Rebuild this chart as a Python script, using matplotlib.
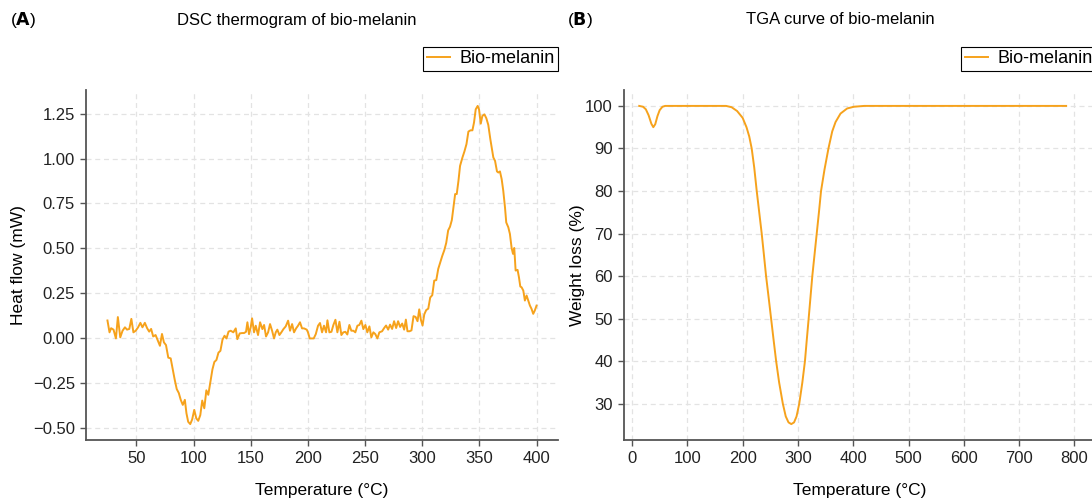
import matplotlib
matplotlib.use("Agg")
from matplotlib import pyplot as plt

plt.rcParams["font.family"] = ["Liberation Sans", "DejaVu Sans"]

LINE_COLOR = "#F6A21C"

# DSC thermogram
dsc_temp = [
    24.7, 26.5, 27.9, 30.0, 32.1, 33.8, 35.9, 37.9, 40.0, 41.8,
    43.8, 45.6, 47.4, 49.4, 51.5, 53.5, 55.3, 57.4, 59.4, 61.2,
    62.9, 64.7, 66.8, 68.8, 70.6, 72.4, 74.1, 75.9, 77.9, 80.0,
    81.8, 83.5, 85.3, 87.1, 88.8, 90.6, 92.4, 93.8, 95.3, 97.1,
    98.8, 100.6, 102.4, 104.1, 105.9, 107.6, 109.4, 111.2, 112.9, 114.7,
    116.5, 118.2, 120.0, 121.8, 123.5, 125.3, 127.1, 128.8, 130.6,
    132.5, 134.8, 136.9, 138.3, 140.4, 142.4, 144.2, 145.9, 147.1, 148.5,
    150.0, 151.2, 152.9, 154.4, 156.4, 158.2, 160.2, 161.7, 163.4, 165.2,
    166.9, 168.7, 170.4, 171.9, 173.3, 175.1, 176.8, 178.6, 180.6, 182.7,
    184.4, 186.2, 187.9, 189.7, 191.4, 193.1, 194.9, 196.6, 199.0, 200.1,
    201.6, 203.4, 205.1, 206.9, 208.9, 210.6, 212.4, 214.1, 215.9, 217.1,
    218.8, 220.6, 222.3, 224.1, 225.8, 227.6, 229.3, 231.0, 232.8, 234.5,
    236.3, 238.0, 239.8, 241.5, 243.3, 245.0, 246.8, 248.5, 250.3, 252.0,
    253.8, 255.5, 257.3, 259.0, 260.8, 262.5,
    264.9, 266.7, 268.4, 270.2, 271.9, 273.7, 275.4, 277.2, 278.9, 280.7,
    282.5, 284.2, 285.7, 287.1, 288.9, 290.6, 292.4, 294.2, 295.9, 297.4,
    298.8, 300.3, 301.8, 303.5, 305.3, 307.0, 308.8, 310.5, 312.3, 314.0,
    315.8, 317.5, 319.3,
    321.0, 322.7, 324.3,
    325.9, 327.3, 328.8, 330.2, 331.7, 333.1, 335.2, 336.9, 338.7, 340.4,
    342.2, 343.9, 345.3, 346.8, 348.5, 349.7, 351.2, 352.6, 354.4, 356.1,
    357.8, 359.6, 360.8, 362.2, 363.7, 365.4, 366.6, 368.0, 369.5, 370.9,
    372.4, 373.5, 375.3, 376.7, 378.2, 379.4, 380.5, 381.7, 383.4, 384.6,
    385.8, 386.9, 388.4, 389.8, 391.3, 392.7, 394.2, 395.6, 397.1, 398.5,
    400.0,
]
dsc_heat = [
    0.098, 0.032, 0.055, 0.047, -0.002, 0.117, 0.004, 0.041, 0.060, 0.047,
    0.051, 0.107, 0.032, 0.041, 0.060, 0.085, 0.060, 0.085, 0.055, 0.036,
    0.051, 0.009, 0.017, -0.015, -0.043, 0.023, -0.024, -0.039, -0.109, -0.113,
    -0.175, -0.231, -0.284, -0.306, -0.344, -0.372, -0.344, -0.419, -0.466, -0.479,
    -0.453, -0.400, -0.447, -0.461, -0.429, -0.348, -0.391, -0.291, -0.316, -0.246,
    -0.175, -0.133, -0.122, -0.081, -0.071, -0.009, 0.013, -0.002, 0.036,
    0.041, 0.032, 0.054, -0.006, 0.026, 0.028, 0.028, 0.035, 0.088, 0.022,
    0.060, 0.110, 0.032, 0.069, 0.017, 0.088, 0.050, 0.073, 0.009, 0.032,
    0.078, 0.041, -0.002, 0.032, 0.047, 0.017, 0.032, 0.050, 0.065, 0.097,
    0.041, 0.078, 0.032, 0.054, 0.069, 0.088, 0.054, 0.054, 0.047, 0.032,
    -0.002, -0.002, -0.002, 0.022, 0.069, 0.084, 0.032, 0.069, 0.032, 0.099,
    0.032, 0.035, 0.073, 0.102, 0.032, 0.091, 0.017, 0.032, 0.035, 0.020,
    0.073, 0.041, 0.041, 0.032, 0.069, 0.073, 0.097, 0.050, 0.073, 0.032,
    0.065, 0.004, 0.032, 0.022, -0.002, 0.032,
    0.038, 0.056, 0.070, 0.047, 0.075, 0.051, 0.094, 0.056, 0.094, 0.062,
    0.081, 0.047, 0.103, 0.038, 0.038, 0.043, 0.122, 0.118, 0.094, 0.160,
    0.103, 0.070, 0.132, 0.156, 0.164, 0.226, 0.239, 0.320, 0.323, 0.385,
    0.423, 0.457, 0.489,
    0.530, 0.600, 0.620,
    0.657, 0.728, 0.802, 0.802, 0.876, 0.959, 1.006, 1.039, 1.080, 1.150,
    1.157, 1.157, 1.200, 1.274, 1.293, 1.274, 1.194, 1.237, 1.246, 1.224,
    1.187, 1.107, 1.061, 1.006, 0.987, 0.928, 0.922, 0.928, 0.885, 0.820,
    0.728, 0.644, 0.617, 0.580, 0.502, 0.469, 0.502, 0.376, 0.380, 0.339,
    0.287, 0.283, 0.265, 0.209, 0.237, 0.209, 0.181, 0.163, 0.135, 0.154,
    0.181,
]

# TGA curve
tga_temp = [
    13, 20, 25, 30, 35, 38.5, 42, 46, 50, 55, 60, 100, 150, 170, 180,
    190, 200, 207, 212, 216.4, 221, 225.5, 230, 234.5, 238.5, 242.4, 247,
    251.5, 256, 260.6, 266, 272.7, 278, 283, 288, 293, 297.5, 302.4, 308,
    312.7, 316, 319.4, 322.7, 326, 330, 334, 338, 341.8, 348, 355.2, 362,
    368, 377, 389, 401, 420, 500, 600, 700, 785,
]
tga_weight = [
    100, 99.8, 99.2, 97.8, 95.8, 95.0, 95.7, 97.6, 99.0, 99.8, 100, 100, 100, 100, 99.7,
    98.8, 97.2, 95.0, 92.8, 90.0, 85.5, 80.0, 75.0, 70.0, 65.0, 60.0, 55.0,
    50.0, 45.0, 40.0, 35.0, 30.0, 27.0, 25.6, 25.2, 25.6, 27.0, 30.0, 35.0,
    40.0, 45.0, 50.0, 55.0, 60.0, 65.0, 70.0, 75.0, 80.0, 85.0, 90.0, 94.0,
    96.2, 98.2, 99.4, 99.8, 100, 100, 100, 100, 100,
]

W, H = 1092, 499


def style_axes(ax):
    for side in ["top", "right"]:
        ax.spines[side].set_visible(False)
    for side in ["left", "bottom"]:
        ax.spines[side].set_color("#555555")
        ax.spines[side].set_linewidth(1.3)
    ax.tick_params(length=4, width=1, color="#555555", labelsize=12,
                   labelcolor="#222222", pad=4)
    ax.grid(True, color="#e3e3e3", linestyle=(0, (4, 3)), linewidth=0.9)
    ax.set_axisbelow(True)
    ax.legend(loc="lower right", bbox_to_anchor=(1.0, 1.054), borderaxespad=0,
              fancybox=False, edgecolor="black", framealpha=1, fontsize=13,
              borderpad=0.2, handlelength=1.3, handletextpad=0.5)
    ax.get_legend().get_frame().set_linewidth(0.8)


fig = plt.figure(figsize=(W / 100, H / 100), dpi=100)
ax1 = fig.add_axes([86 / W, 59 / H, 472 / W, 350 / H])
ax2 = fig.add_axes([624 / W, 59 / H, 472 / W, 350 / H])

ax1.plot(dsc_temp, dsc_heat, color=LINE_COLOR, lw=1.4, label="Bio-melanin")
ax1.set_xticks([50, 100, 150, 200, 250, 300, 350, 400])
ax1.set_yticks([-0.5, -0.25, 0, 0.25, 0.5, 0.75, 1.0, 1.25])
ax1.set_xlabel("Temperature (°C)", fontsize=12.5)
ax1.set_ylabel("Heat flow (mW)", fontsize=12.5)
ax1.xaxis.set_label_coords(0.5, -0.123)
ax1.yaxis.set_label_coords(-0.128, 0.5)
style_axes(ax1)

ax2.plot(tga_temp, tga_weight, color=LINE_COLOR, lw=1.4, label="Bio-melanin")
ax2.set_xlim(-14.5, 839)
ax2.set_xticks(range(0, 900, 100))
ax2.set_yticks(range(30, 110, 10))
ax2.set_xlabel("Temperature (°C)", fontsize=12.5)
ax2.set_ylabel("Weight loss (%)", fontsize=12.5)
ax2.xaxis.set_label_coords(0.5, -0.123)
ax2.yaxis.set_label_coords(-0.0816, 0.5)
style_axes(ax2)

fig.text(297 / W, 1 - 20 / H, "DSC thermogram of bio-melanin", ha="center",
         va="center", fontsize=12)
fig.text(840 / W, 1 - 20 / H, "TGA curve of bio-melanin", ha="center",
         va="center", fontsize=12)
fig.text(10 / W, 1 - 20 / H, r"($\bf{A}$)", ha="left", va="center", fontsize=12.5)
fig.text(567 / W, 1 - 20 / H, r"($\bf{B}$)", ha="left", va="center", fontsize=12.5)

fig.savefig("out.png", dpi=100)
